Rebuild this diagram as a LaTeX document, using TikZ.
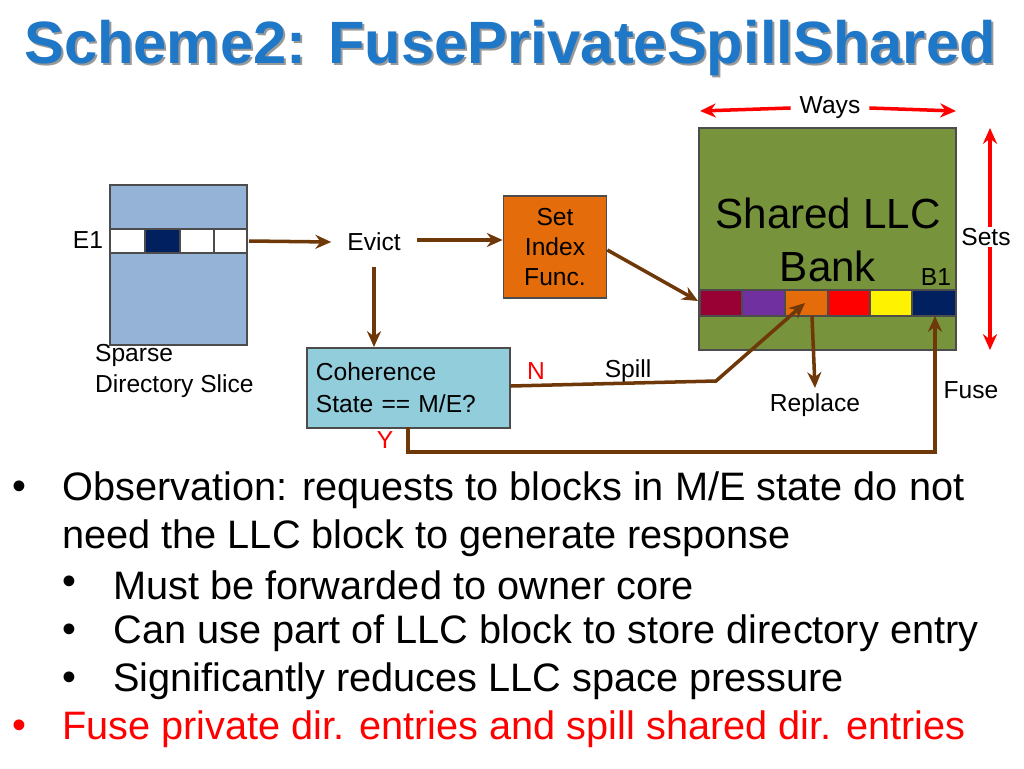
\documentclass[tikz,border=0pt]{standalone}
\usepackage{fontspec}
\setmainfont{Liberation Sans}
\usetikzlibrary{positioning, arrows.meta, calc}
\definecolor{titleblue}{RGB}{31,119,199}
\definecolor{dirblue}{RGB}{149,179,215}
\definecolor{navy}{RGB}{0,32,96}
\definecolor{arrbrown}{RGB}{110,56,8}
\definecolor{funcorange}{RGB}{228,108,10}
\definecolor{llcgreen}{RGB}{119,147,60}
\definecolor{cohblue}{RGB}{146,205,220}
\definecolor{wine}{RGB}{153,0,51}
\definecolor{violet}{RGB}{112,48,160}
\tikzset{
  flow/.style={draw=arrbrown, line width=2pt, -{Stealth[length=9pt,width=8pt]}},
  redarr/.style={draw=red, line width=2pt, {Stealth[length=9pt,width=8pt]}-{Stealth[length=9pt,width=8pt]}},
  lbl/.style={font=\fontsize{14}{16}\selectfont, inner sep=1pt},
  cell/.style={draw=black!70, line width=0.8pt}
}
\begin{document}
\begin{tikzpicture}[x=0.02cm, y=-0.02cm]
  \useasboundingbox (0,0) rectangle (1024,768);
  % title
  \node[text=black!40, font=\bfseries\fontsize{34}{38}\selectfont] at (512,50) {Scheme2: FusePrivateSpillShared};
  \node[text=titleblue, font=\bfseries\fontsize{34}{38}\selectfont] (title) at (510,48) {Scheme2: FusePrivateSpillShared};

  % sparse directory slice
  \draw[fill=dirblue, draw=black!70, line width=1pt] (110,185) rectangle (247,345);
  \foreach \xa/\xb/\c in {110/145/white, 145/180/navy, 180/214/white, 214/247/white}
    \draw[cell, fill=\c] (\xa,229) rectangle (\xb,253);
  \coordinate (dir) at (249,241);
  \node[lbl] (e1) at (88,240) {E1};
  \node[lbl, align=left, anchor=west] (slice) at (93,371) {Sparse\\[2pt]Directory Slice};

  % evict, set index function
  \node[lbl] (evict) at (374,242) {Evict};
  \node[draw=black!70, line width=1pt, fill=funcorange, lbl, align=center,
        minimum width=2.06cm, text width=1.6cm, minimum height=2.04cm] (func) at (555,247)
        {Set\\[1pt]Index\\[1pt]Func.};
  \draw[flow] (dir) -- ([xshift=-8pt]evict.west);
  \draw[flow] ([xshift=8pt]evict.east |- 0,240) -- (func.west |- 0,240);

  % shared LLC bank
  \draw[fill=llcgreen, draw=black!70, line width=1pt] (699,128) rectangle (956,350);
  \node[font=\fontsize{24}{30}\selectfont, align=center] (llc) at (828,240) {Shared LLC\\Bank};
  \node[lbl] (b1) at (936,277) {B1};
  \foreach \xa/\xb/\c [count=\i] in {700/742/wine, 742/785/violet, 785/828/funcorange, 828/870/red, 870/912/yellow, 912/956/navy}
    \draw[cell, fill=\c] (\xa,290) rectangle (\xb,316) coordinate (c\i);
  \coordinate (rowL) at (698,301);
  \draw[flow] (func.east |- 0,250) -- (rowL);

  % ways and sets
  \node[lbl] (ways) at (830,108) {Ways};
  \coordinate (wl) at (700,111);
  \coordinate (wr) at (956,111);
  \draw[redarr, -{Stealth[length=9pt,width=8pt]}] ([xshift=-4pt]ways.west) -- (wl);
  \draw[redarr, -{Stealth[length=9pt,width=8pt]}] ([xshift=4pt]ways.east) -- (wr);
  \coordinate (st) at (990,128);
  \coordinate (sb) at (990,350);
  \draw[redarr] (st) -- (sb);
  \node[lbl, fill=white] (sets) at (986,237) {Sets};

  % coherence check
  \node[draw=black!70, line width=1pt, fill=cohblue, lbl, align=left, anchor=north west,
        minimum width=4.06cm, minimum height=1.6cm, text width=3.7cm] (coh) at (306,347)
        {Coherence\\[2pt]State == M/E?};
  \draw[flow] ([yshift=-8pt]evict.south) -- (coh.north -| evict.south);
  \node[lbl, text=red] (n) at (536,371) {N};
  \node[lbl] (spill) at (628,371) {Spill};
  \coordinate (bend) at (716,381);
  \coordinate (orange) at (805,303);
  \draw[flow] (coh.east |- 0,386) -- (bend) -- (orange);
  \node[lbl] (replace) at (815,405) {Replace};
  \draw[flow] (812,316) -- ([yshift=2pt]replace.north);
  \node[lbl, text=red] (y) at (385,440) {Y};
  \node[lbl] (fuse) at (971,390) {Fuse};
  \coordinate (b1row) at (935,316);
  \draw[flow] (408,427) -- (408,452) -- (935,452) -- (b1row);

  % bullets
  \begin{scope}[every node/.style={anchor=west, inner sep=0pt, font=\fontsize{22.6}{26}\selectfont}]
    \node (o1) at (12,490) {•};
    \node (t1) at (62,490) {Observation: requests to blocks in M/E state do not};
    \node (t1b) at (62,538) {need the LLC block to generate response};
    \node (s1) at (62,585) {•};
    \node (u1) at (113,585) {Must be forwarded to owner core};
    \node (s2) at (62,633) {•};
    \node (u2) at (113,633) {Can use part of LLC block to store directory entry};
    \node (s3) at (62,681) {•};
    \node (u3) at (113,681) {Significantly reduces LLC space pressure};
    \node[text=red] (o2) at (12,729) {•};
    \node[text=red] (t2) at (62,729) {Fuse private dir. entries and spill shared dir. entries};
  \end{scope}
\end{tikzpicture}
\end{document}
